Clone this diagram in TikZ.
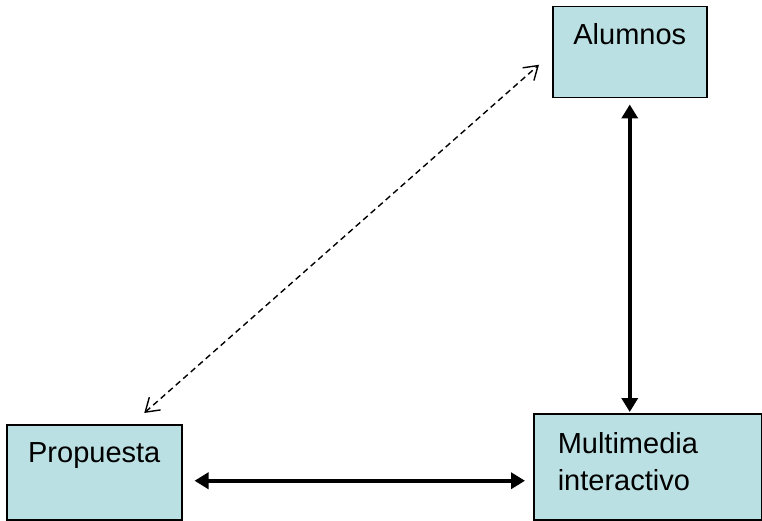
\documentclass[tikz,border=0pt]{standalone}
\usepackage{fontspec}
\setmainfont{Liberation Sans}
\usetikzlibrary{arrows.meta,positioning,calc}
\definecolor{ink}{HTML}{000000}
\definecolor{wash}{HTML}{BBE0E3}
\tikzset{box/.style={draw=ink,line width=1.5pt,fill=wash,inner sep=0pt,font=\fontsize{29}{37}\selectfont}, arr/.style={{Triangle[length=14pt,width=16pt]}-{Triangle[length=14pt,width=16pt]},line width=3.6pt,draw=ink}, darr/.style={{Straight Barb[length=13pt,width=17pt]}-{Straight Barb[length=13pt,width=17pt]},line width=1.4pt,dash pattern=on 6pt off 4pt,draw=ink}}

\begin{document}
\begin{tikzpicture}[x=1pt,y=-1pt]
\useasboundingbox (0,0) rectangle (762,521);
\node[box,anchor=north west,text width=154pt,align=center,text height=38pt,text depth=53pt](al)at(552,6){Alumnos};\node[box,anchor=north west,text width=175pt,align=center,text height=38pt,text depth=57pt](pr)at(6,424){Propuesta};
\node[box,anchor=north west,text width=180pt,inner xsep=24pt,align=left,text height=40pt,text depth=66pt](mm)at(533,413){Multimedia\\interactivo};
\draw[arr,shorten <=6pt,shorten >=1pt](al.south)--(al.south |- mm.north);\draw[arr,shorten <=12pt,shorten >=8pt]([yshift=-8.5pt]pr.east)--([yshift=-8.5pt]pr.east -| mm.west);
\draw[darr]([xshift=50pt,yshift=11pt]pr.north)--([xshift=-13pt,yshift=-12.5pt]al.west);
\end{tikzpicture}
\end{document}
